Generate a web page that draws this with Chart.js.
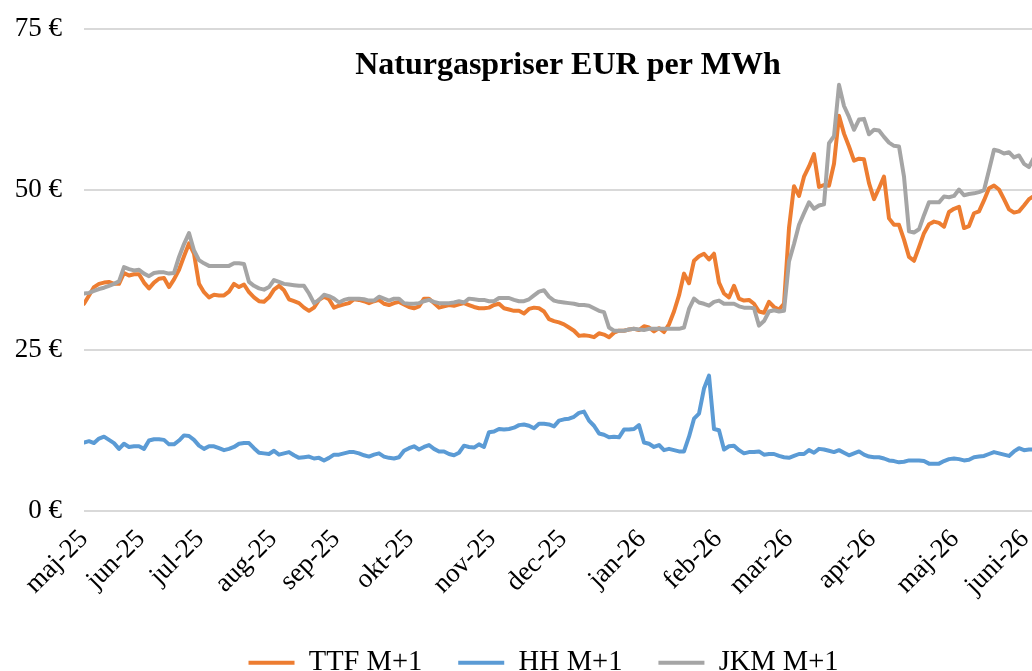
<!DOCTYPE html>
<html><head><meta charset="utf-8">
<script src="https://cdn.jsdelivr.net/npm/chart.js@4.4.1/dist/chart.umd.min.js"></script>
<style>
html,body{margin:0;padding:0;background:#fff;overflow:hidden;width:1032px;height:671px;}
#wrap{position:absolute;left:0;top:0;width:1052px;height:687px;}
</style></head><body>
<div id="wrap"><canvas id="c"></canvas></div>
<script>
const monthLabels = ['maj-25','jun-25','jul-25','aug-25','sep-25','okt-25','nov-25','dec-25','jan-26','feb-26','mar-26','apr-26','maj-26','juni-26'];
const monthStartIndex = [0,11.4,23.2,37.8,50.4,65.2,81.6,95.8,111.6,126.8,141.0,157.6,174.2,188.2];
const yTicks = [0,25,50,75];
const seriesNames = ['TTF M+1','HH M+1','JKM M+1'];

const ttf = [32.2,33.5,34.8,35.3,35.5,35.6,35.3,35.3,37.0,36.6,
36.8,36.8,35.5,34.6,35.5,36.1,36.2,34.8,36.0,37.5,
39.6,41.6,40.0,35.3,34.0,33.2,33.6,33.5,33.5,34.1,
35.3,34.8,35.2,34.0,33.2,32.6,32.5,33.2,34.4,35.0,
34.3,32.9,32.6,32.3,31.6,31.1,31.6,32.8,33.3,32.9,
31.6,31.9,32.1,32.3,32.9,32.8,32.6,32.3,32.6,32.8,
32.2,32.0,32.3,32.5,32.1,31.7,31.5,31.8,33.0,33.0,
32.3,31.6,31.8,32.0,31.9,32.1,32.3,32.0,31.7,31.5,
31.5,31.6,32.0,32.2,31.5,31.3,31.1,31.1,30.7,31.4,
31.6,31.5,31.0,29.8,29.5,29.3,29.0,28.5,28.0,27.2,
27.3,27.2,27.0,27.6,27.4,27.0,27.7,28.0,28.0,28.2,
28.3,28.1,28.7,28.5,27.9,28.4,27.8,29.0,31.0,33.5,
36.9,35.4,38.9,39.6,40.0,39.1,40.0,35.5,33.8,33.2,
35.0,33.0,32.7,32.8,32.2,31.0,30.8,32.5,31.7,31.3,
32.2,44.0,50.5,49.0,52.0,53.6,55.5,50.4,50.7,50.6,
54.0,61.5,58.7,56.7,54.5,54.8,54.7,51.0,48.5,50.2,
52.0,45.5,44.5,44.5,42.2,39.5,38.9,41.0,43.2,44.6,
45.0,44.8,44.2,46.5,47.0,47.3,44.0,44.3,46.3,46.6,
48.3,50.2,50.6,50.0,48.5,46.9,46.4,46.6,47.5,48.5,49.0];

const hh = [10.6,10.8,10.5,11.2,11.5,11.0,10.5,9.6,10.4,9.9,
10.0,10.0,9.6,10.9,11.1,11.1,11.0,10.3,10.3,10.9,
11.7,11.6,11.0,10.1,9.6,10.0,10.0,9.7,9.4,9.6,
9.9,10.4,10.5,10.5,9.7,9.0,8.9,8.8,9.3,8.7,
8.9,9.1,8.6,8.2,8.3,8.4,8.1,8.2,7.8,8.2,
8.7,8.7,8.9,9.1,9.1,8.9,8.6,8.4,8.7,8.9,
8.4,8.2,8.1,8.3,9.3,9.7,10.0,9.5,9.9,10.2,
9.6,9.2,9.2,8.8,8.6,9.0,10.1,9.9,9.8,10.3,
9.9,12.2,12.3,12.7,12.6,12.7,12.9,13.3,13.4,13.2,
12.8,13.5,13.5,13.4,13.1,14.0,14.2,14.3,14.6,15.2,
15.4,14.0,13.2,12.0,11.8,11.4,11.5,11.4,12.6,12.6,
12.7,13.3,10.6,10.4,9.9,10.2,9.4,9.6,9.4,9.2,
9.2,11.5,14.3,15.1,19.0,21.0,12.7,12.5,9.5,10.0,
10.1,9.4,8.9,9.1,9.1,9.2,8.7,8.8,8.8,8.5,
8.3,8.2,8.5,8.8,8.8,9.4,9.0,9.6,9.5,9.3,
9.1,9.4,9.0,8.6,8.9,9.2,8.7,8.4,8.3,8.3,
8.1,7.8,7.7,7.5,7.6,7.8,7.8,7.8,7.7,7.3,
7.3,7.3,7.7,8.0,8.1,8.0,7.8,7.9,8.3,8.4,
8.5,8.8,9.1,8.9,8.7,8.5,9.2,9.7,9.4,9.5,9.5];

const jkm = [33.8,33.9,34.2,34.5,34.7,35.0,35.3,35.7,37.9,37.6,
37.4,37.5,36.9,36.5,37.0,37.1,37.1,36.9,37.0,39.5,
41.5,43.2,40.5,39.0,38.5,38.1,38.1,38.1,38.1,38.1,
38.5,38.5,38.4,35.6,35.0,34.6,34.4,34.8,35.9,35.6,
35.3,35.2,35.1,35.0,35.0,33.8,32.3,32.8,33.6,33.4,
33.0,32.4,32.8,33.0,33.0,33.0,32.9,32.7,32.7,33.3,
33.0,32.7,33.0,33.0,32.3,32.2,32.2,32.3,32.6,32.8,
32.5,32.3,32.3,32.3,32.4,32.6,32.4,33.0,32.9,32.8,
32.8,32.6,32.6,33.1,33.1,33.1,32.8,32.6,32.6,32.9,
33.5,34.1,34.3,33.3,32.7,32.5,32.4,32.3,32.2,32.0,
32.0,31.9,31.5,31.1,30.9,28.5,28.0,28.0,28.0,28.2,
28.3,28.2,28.1,28.3,28.3,28.3,28.3,28.3,28.3,28.3,
28.5,31.4,33.0,32.4,32.2,31.9,32.5,32.7,32.2,32.2,
32.2,31.8,31.6,31.6,31.5,28.8,29.5,31.0,31.2,31.0,
31.1,38.8,41.5,44.5,46.3,48.0,47.0,47.5,47.7,57.2,
58.3,66.3,63.0,61.3,59.3,60.9,61.0,58.6,59.3,59.2,
58.2,57.3,56.8,56.7,52.0,43.5,43.3,43.8,46.0,48.0,
48.0,48.0,48.9,48.8,49.0,50.0,49.1,49.3,49.4,49.6,
49.9,53.0,56.2,56.0,55.6,55.8,55.0,55.3,54.0,53.5,55.0];

const FONT = "'Liberation Serif', 'Times New Roman', serif";
const toPts = arr => arr.map((v, i) => ({x: i, y: v}));

function mkSet(label, data, color, order) {
  return {
    label, data: toPts(data), borderColor: color, backgroundColor: color,
    borderWidth: 4, pointRadius: 0, pointHoverRadius: 0, tension: 0,
    borderJoinStyle: 'round', borderCapStyle: 'round', fill: false, order
  };
}

const legendShift = {
  id: 'legendShift',
  afterLayout(chart) {
    const l = chart.legend;
    if (l) { l.left += 17.5; l.right += 17.5; }
  }
};

new Chart(document.getElementById('c'), {
  type: 'line',
  data: {
    datasets: [
      mkSet(seriesNames[0], ttf, '#ED7D31', 2),
      mkSet(seriesNames[1], hh, '#5B9BD5', 1),
      mkSet(seriesNames[2], jkm, '#A5A5A5', 0)
    ]
  },
  plugins: [legendShift],
  options: {
    responsive: true,
    maintainAspectRatio: false,
    animation: false,
    devicePixelRatio: 1,
    layout: { padding: 0 },
    plugins: {
      title: {
        display: true,
        text: 'Naturgaspriser EUR per MWh',
        color: '#000',
        fullSize: false,
        font: { family: FONT, size: 32, weight: 'bold', lineHeight: 1.2 },
        padding: { top: 47, bottom: -56.4 }
      },
      legend: {
        position: 'bottom',
        labels: {
          usePointStyle: true,
          pointStyle: 'line',
          pointStyleWidth: 46,
          padding: 36,
          color: '#000',
          font: { family: FONT, size: 28.5 },
          sort: (a, b) => a.datasetIndex - b.datasetIndex
        }
      },
      tooltip: { enabled: false }
    },
    scales: {
      x: {
        type: 'linear',
        min: 0,
        max: 193.6,
        afterBuildTicks: s => { s.ticks = monthStartIndex.map(v => ({ value: v })); },
        afterFit: s => { s.height = 102; s.paddingLeft = 0; s.paddingRight = 0; },
        grid: { display: false, drawTicks: false },
        border: { display: false },
        ticks: {
          autoSkip: false,
          minRotation: 45,
          maxRotation: 45,
          padding: 13,
          color: '#000',
          font: { family: FONT, size: 27 },
          callback: (v, i) => monthLabels[i]
        }
      },
      y: {
        min: 0,
        max: 75,
        afterBuildTicks: s => { s.ticks = yTicks.map(v => ({ value: v })); },
        afterFit: s => { s.width = 84; s.paddingTop = 0; s.paddingBottom = 0; },
        grid: { color: '#D9D9D9', lineWidth: 2, drawTicks: false },
        border: { display: false },
        ticks: {
          padding: 22,
          color: '#000',
          font: { family: FONT, size: 27 },
          callback: v => v + ' €'
        }
      }
    }
  }
});
</script>
</body></html>
